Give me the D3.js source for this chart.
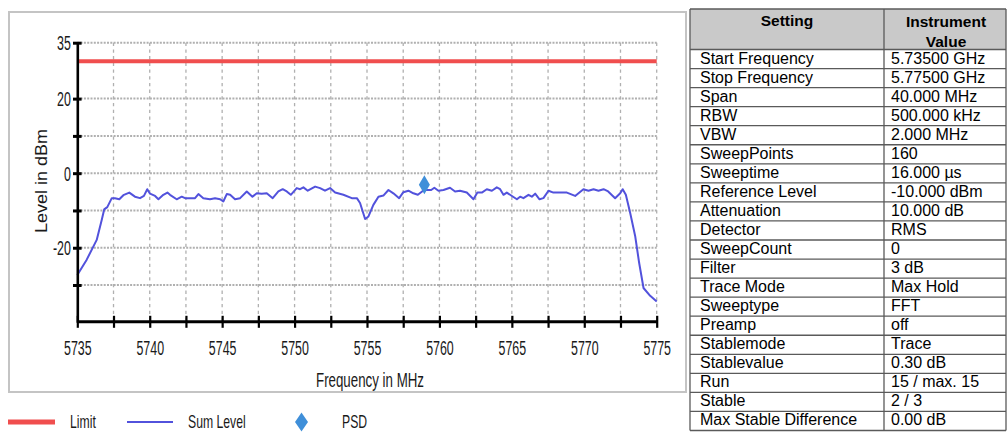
<!DOCTYPE html>
<html>
<head>
<meta charset="utf-8">
<script src="https://cdn.jsdelivr.net/npm/d3@7"></script>
<style>
  html, body { margin: 0; padding: 0; background: #ffffff; }
  svg { display: block; font-family: "Liberation Sans", Arial, sans-serif; }
</style>
</head>
<body>
<svg id="chart" width="1007" height="432"></svg>
<script>
// ---------- data ----------
const freqs = [5735.0, 5735.65, 5736.34, 5736.69, 5736.86, 5737.07, 5737.38, 5737.6, 5737.9, 5738.18,
  5738.59, 5738.98, 5739.33, 5739.6, 5739.83, 5740.02, 5740.37, 5740.6, 5740.94, 5741.22,
  5741.4, 5741.86, 5742.21, 5742.44, 5743.13, 5743.36, 5743.7, 5744.16, 5744.51, 5744.86,
  5745.08, 5745.32, 5745.55, 5745.89, 5746.24, 5746.7, 5747.09, 5747.39, 5747.73, 5748.08,
  5748.49, 5748.88, 5749.18, 5749.46, 5749.74, 5750.15, 5750.38, 5750.61, 5750.91, 5751.42,
  5751.76, 5752.1, 5752.45, 5752.8, 5753.37, 5753.95, 5754.3, 5754.52, 5754.87, 5755.1,
  5755.44, 5755.79, 5756.13, 5756.48, 5756.82, 5757.22, 5757.51, 5757.86, 5758.2, 5758.51,
  5758.94, 5759.43, 5759.65, 5759.93, 5760.28, 5760.73, 5761.08, 5761.42, 5761.89, 5762.35,
  5762.62, 5762.93, 5763.27, 5763.62, 5763.96, 5764.19, 5764.42, 5764.65, 5765.11, 5765.35,
  5765.57, 5765.8, 5766.15, 5766.38, 5766.61, 5766.91, 5767.18, 5767.53, 5767.87, 5768.8,
  5769.37, 5769.94, 5770.29, 5770.64, 5770.98, 5771.33, 5771.65, 5772.13, 5772.48, 5772.65,
  5772.87, 5773.17, 5773.52, 5773.79, 5774.09, 5774.55, 5775.0];
const levels = [-27.3, -23.2, -17.9, -12.5, -9.7, -9.1, -6.7, -6.7, -7.0, -5.9,
  -5.2, -6.3, -6.7, -6.1, -4.3, -5.5, -6.1, -7.0, -5.8, -5.2,
  -5.8, -7.0, -6.3, -6.7, -6.7, -5.6, -6.7, -7.0, -6.7, -7.0,
  -7.6, -5.6, -5.8, -7.0, -6.7, -4.9, -6.3, -5.4, -5.5, -5.4,
  -6.7, -4.9, -4.3, -4.9, -5.8, -4.0, -4.3, -3.8, -4.7, -3.6,
  -4.0, -4.7, -4.0, -5.2, -5.8, -6.7, -6.7, -8.0, -12.3, -11.6,
  -8.5, -6.3, -6.0, -4.5, -5.4, -6.7, -5.1, -4.7, -5.4, -5.8,
  -4.5, -4.5, -3.9, -4.7, -4.5, -3.9, -4.9, -4.7, -5.2, -7.0,
  -5.2, -5.2, -4.3, -4.7, -3.8, -4.3, -5.8, -5.2, -6.4, -7.0,
  -6.3, -6.7, -5.8, -6.3, -5.5, -7.0, -6.7, -4.7, -5.2, -5.2,
  -6.1, -4.3, -4.7, -4.3, -4.7, -4.3, -4.9, -6.7, -5.4, -4.3,
  -5.8, -10.7, -17.0, -24.1, -30.8, -32.9, -34.4];
const limitLevel = 30;
const psdFreq = [5758.96];
const psdLevel = [-3.1];

const xDomain = [5735, 5775];
const yDomain = [-40, 35];
const xTickValues = [5735, 5737.5, 5740, 5742.5, 5745, 5747.5, 5750, 5752.5, 5755, 5757.5,
  5760, 5762.5, 5765, 5767.5, 5770, 5772.5, 5775];
const xTickLabels = [5735, 5740, 5745, 5750, 5755, 5760, 5765, 5770, 5775];
const yTickValues = [35, 20, 10, 0, -10, -20, -30];
const yTickLabels = [35, 20, 0, -20];

const xTitle = "Frequency in MHz";
const yTitle = "Level in dBm";
const legendNames = ["Limit", "Sum Level", "PSD"];

const tableHeader = ["Setting", "Instrument\nValue"];
const tableSettings = ["Start Frequency", "Stop Frequency", "Span", "RBW", "VBW", "SweepPoints",
  "Sweeptime", "Reference Level", "Attenuation", "Detector", "SweepCount", "Filter",
  "Trace Mode", "Sweeptype", "Preamp", "Stablemode", "Stablevalue", "Run", "Stable",
  "Max Stable Difference"];
const tableValues = ["5.73500 GHz", "5.77500 GHz", "40.000 MHz", "500.000 kHz", "2.000 MHz", "160",
  "16.000 µs", "-10.000 dBm", "10.000 dB", "RMS", "0", "3 dB", "Max Hold", "FFT", "off",
  "Trace", "0.30 dB", "15 / max. 15", "2 / 3", "0.00 dB"];

// ---------- styles ----------
const C = {
  frame: "#c4c4c4", grid: "#b0b0b0", axis: "#000", limit: "#f04e4e",
  trace: "#5252dc", psd: "#3f8fd9", header: "#c9c9c9", tableLine: "#5a5a5a"
};
const SQ = 0.62; // horizontal condensation of chart texts

const svg = d3.select("#chart");

function condense(sel, factor) {
  sel.each(function () {
    const L = this.getComputedTextLength();
    d3.select(this).attr("textLength", L * factor).attr("lengthAdjust", "spacingAndGlyphs");
  });
}

// ---------- chart frame ----------
svg.append("rect").attr("x", 9).attr("y", 12).attr("width", 677).attr("height", 380)
  .attr("fill", "#fff").attr("stroke", C.frame).attr("stroke-width", 2);

const x = d3.scaleLinear().domain(xDomain).range([77.3, 656.7]);
const y = d3.scaleLinear().domain(yDomain).range([322.3, 42.7]);

// grid
const g = svg.append("g");
g.selectAll("line.hg").data(yTickValues).join("line").attr("class", "hg")
  .attr("x1", x(xDomain[0])).attr("x2", x(xDomain[1]))
  .attr("y1", d => y(d)).attr("y2", d => y(d))
  .attr("stroke", C.grid).attr("stroke-width", 2).attr("stroke-dasharray", "2,1.3");
g.selectAll("line.vg").data(xTickValues.slice(1)).join("line").attr("class", "vg")
  .attr("x1", d => x(d)).attr("x2", d => x(d))
  .attr("y1", y(yDomain[1])).attr("y2", y(yDomain[0]))
  .attr("stroke", C.grid).attr("stroke-width", 1.3).attr("stroke-dasharray", "3.3,3.4");

// limit line
svg.append("line").attr("x1", x(xDomain[0])).attr("x2", x(xDomain[1]))
  .attr("y1", y(limitLevel)).attr("y2", y(limitLevel))
  .attr("stroke", C.limit).attr("stroke-width", 4);

// trace
const pts = freqs.map((f, i) => [f, levels[i]]);
svg.append("path").datum(pts)
  .attr("d", d3.line().x(d => x(d[0])).y(d => y(d[1])))
  .attr("fill", "none").attr("stroke", C.trace).attr("stroke-width", 2)
  .attr("stroke-linejoin", "round");

// PSD marker
const diamond = (cx, cy, w, h) => `M${cx},${cy - h / 2}L${cx + w / 2},${cy}L${cx},${cy + h / 2}L${cx - w / 2},${cy}Z`;
svg.selectAll("path.psd").data(psdFreq.map((f, i) => [f, psdLevel[i]])).join("path")
  .attr("class", "psd").attr("d", d => diamond(x(d[0]), y(d[1]), 11, 19)).attr("fill", C.psd);

// axes
const xAxis = svg.append("g").attr("transform", `translate(0,${y(yDomain[0]) - 1})`)
  .call(d3.axisBottom(x).tickValues(xTickValues).tickSizeOuter(0)
    .tickFormat(d => xTickLabels.includes(d) ? String(d) : ""));
xAxis.select(".domain").attr("stroke", C.axis).attr("stroke-width", 3);
xAxis.selectAll(".tick line").attr("y1", -5.5).attr("y2", 6.5).attr("stroke", C.axis).attr("stroke-width", 2.2);
xAxis.selectAll(".tick text").attr("y", 34).attr("dy", null)
  .attr("font-size", 20).attr("fill", "#1a1a1a").attr("font-family", '"Liberation Sans", Arial, sans-serif');
condense(xAxis.selectAll(".tick text"), SQ);

const yAxis = svg.append("g").attr("transform", `translate(${x(xDomain[0])},0)`)
  .call(d3.axisLeft(y).tickValues(yTickValues).tickSizeOuter(0)
    .tickFormat(d => yTickLabels.includes(d) ? String(d) : ""));
yAxis.select(".domain").attr("stroke", C.axis).attr("stroke-width", 2.6);
yAxis.selectAll(".tick line").attr("x1", -4.3).attr("x2", 4.3).attr("stroke", C.axis).attr("stroke-width", 3);
yAxis.selectAll(".tick text").attr("x", -6.5).attr("dy", "0.36em")
  .attr("font-size", 20).attr("fill", "#1a1a1a").attr("font-family", '"Liberation Sans", Arial, sans-serif');
condense(yAxis.selectAll(".tick text"), SQ);

// axis titles
svg.append("text").attr("x", 370).attr("y", 387).attr("text-anchor", "middle")
  .attr("font-size", 20).attr("fill", "#1a1a1a").text(xTitle)
  .attr("textLength", 108).attr("lengthAdjust", "spacingAndGlyphs");
svg.append("text").attr("transform", "translate(47,181) rotate(-90)").attr("text-anchor", "middle")
  .attr("font-size", 17).attr("fill", "#1a1a1a").text(yTitle)
  .attr("textLength", 104).attr("lengthAdjust", "spacingAndGlyphs");

// legend
const leg = svg.append("g");
leg.append("line").attr("x1", 8).attr("x2", 55).attr("y1", 422).attr("y2", 422)
  .attr("stroke", C.limit).attr("stroke-width", 5);
leg.append("line").attr("x1", 127).attr("x2", 173).attr("y1", 422).attr("y2", 422)
  .attr("stroke", C.trace).attr("stroke-width", 2);
leg.append("path").attr("d", diamond(301.5, 422, 13, 19)).attr("fill", C.psd);
const legX = [70, 188, 342];
const legTexts = leg.selectAll("text").data(legendNames).join("text")
  .attr("x", (d, i) => legX[i]).attr("y", 427.5).attr("font-size", 18.5).attr("fill", "#1a1a1a").text(d => d);
condense(legTexts, 0.66);

// ---------- table ----------
const T = { left: 690, mid: 884, right: 1006, top: 9, headBottom: 49.5, rowH: 19.05 };
const tb = svg.append("g").attr("font-size", 16).attr("fill", "#000");
tb.append("rect").attr("x", T.left).attr("y", T.top).attr("width", T.right - T.left)
  .attr("height", T.headBottom - T.top).attr("fill", C.header);
tb.append("text").attr("x", (T.left + T.mid) / 2).attr("y", 26).attr("text-anchor", "middle")
  .attr("font-weight", "bold").attr("font-size", 15.5).text(tableHeader[0]);
tableHeader[1].split("\n").forEach((s, i) => {
  tb.append("text").attr("x", (T.mid + T.right + 2) / 2).attr("y", 27 + i * 19.5).attr("text-anchor", "middle")
    .attr("font-weight", "bold").attr("font-size", 15.5).text(s);
});
const rowsG = tb.selectAll("g.row").data(tableSettings).join("g").attr("class", "row")
  .attr("transform", (d, i) => `translate(0,${T.headBottom + i * T.rowH})`);
rowsG.append("text").attr("x", 700).attr("y", 14).text(d => d);
rowsG.append("text").attr("x", 891).attr("y", 14).text((d, i) => tableValues[i]);
// grid lines
const nRows = tableSettings.length;
const hLines = d3.range(nRows + 1).map(i => T.headBottom + i * T.rowH);
tb.selectAll("line.rl").data([T.top].concat(hLines)).join("line").attr("class", "rl")
  .attr("x1", T.left).attr("x2", T.right).attr("y1", d => d).attr("y2", d => d)
  .attr("stroke", C.tableLine).attr("stroke-width", 1.3);
const bottom = T.headBottom + nRows * T.rowH;
tb.selectAll("line.cl").data([T.left, T.mid, T.right]).join("line").attr("class", "cl")
  .attr("x1", d => d).attr("x2", d => d).attr("y1", T.top).attr("y2", bottom)
  .attr("stroke", C.tableLine).attr("stroke-width", 1.3);
</script>
</body>
</html>
